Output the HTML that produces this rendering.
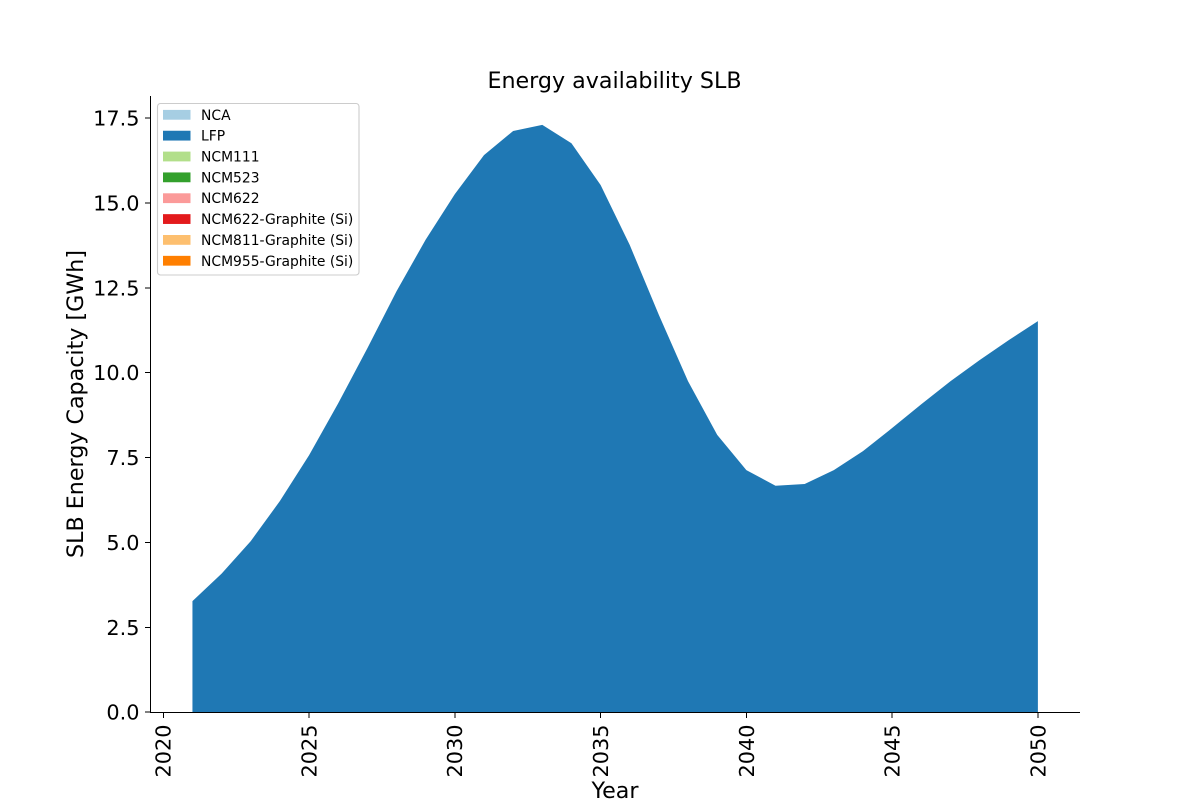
<!DOCTYPE html>
<html lang="en">
<head>
<meta charset="utf-8">
<title>Energy availability SLB</title>
<style>
html,body{margin:0;padding:0;background:#fff;width:1200px;height:800px;overflow:hidden}
svg{display:block}
text{font-family:"DejaVu Sans",sans-serif;fill:#000}
line{shape-rendering:crispEdges}
</style>
</head>
<body>
<svg id="chart" width="1200" height="800" viewBox="0 0 1200 800" xmlns="http://www.w3.org/2000/svg">
  <g id="areas"></g>
  <g id="x-ticks"></g>
  <g id="y-ticks"></g>
  <line x1="150.5" y1="96" x2="150.5" y2="713" stroke="#000" stroke-width="1"/>
  <line x1="150" y1="712.5" x2="1080" y2="712.5" stroke="#000" stroke-width="1"/>
  <text x="614.5" y="88" text-anchor="middle" font-size="22.2">Energy availability SLB</text>
  <text x="615" y="798" text-anchor="middle" font-size="22.2">Year</text>
  <text transform="translate(83 404) rotate(-90)" text-anchor="middle" font-size="22.2">SLB Energy Capacity [GWh]</text>
  <g id="legend">
    <rect x="157.5" y="103.5" width="201.5" height="171.5" rx="3" ry="3" fill="#fff" fill-opacity="0.8" stroke="#ccc" stroke-width="1.1"/>
  </g>
</svg>
<script>
const years = [2021,2022,2023,2024,2025,2026,2027,2028,2029,2030,2031,2032,2033,2034,2035,2036,2037,2038,2039,2040,2041,2042,2043,2044,2045,2046,2047,2048,2049,2050];
const lfpValues = [3.27,4.08,5.04,6.22,7.57,9.1,10.72,12.4,13.92,15.26,16.41,17.12,17.3,16.76,15.53,13.76,11.7,9.75,8.17,7.13,6.67,6.72,7.13,7.69,8.37,9.07,9.75,10.37,10.96,11.52];
const seriesNames = ["NCA","LFP","NCM111","NCM523","NCM622","NCM622-Graphite (Si)","NCM811-Graphite (Si)","NCM955-Graphite (Si)"];
const seriesColors = ["#a6cee3","#1f78b4","#b2df8a","#33a02c","#fb9a99","#e31a1c","#fdbf6f","#ff7f00"];
const xTickValues = [2020,2025,2030,2035,2040,2045,2050];
const yTickValues = [0,2.5,5,7.5,10,12.5,15,17.5];
const yTickLabels = ["0.0","2.5","5.0","7.5","10.0","12.5","15.0","17.5"];

const NS = "http://www.w3.org/2000/svg";
function xScale(v){ return 163.3 + (v - 2020) * 29.153; }
function yScale(v){ return 712.2 - v * 33.95; }
function make(tag, attrs, parent){
  const el = document.createElementNS(NS, tag);
  for (const k in attrs) el.setAttribute(k, attrs[k]);
  parent.appendChild(el);
  return el;
}

const areaGroup = document.getElementById('areas');
const upperEdge = years.map((y, i) => xScale(y).toFixed(2) + ',' + yScale(lfpValues[i]).toFixed(2));
const lowerEdge = [xScale(years[years.length - 1]).toFixed(2) + ',' + yScale(0).toFixed(2), xScale(years[0]).toFixed(2) + ',' + yScale(0).toFixed(2)];
const lfpArea = make('polygon', {points: upperEdge.concat(lowerEdge).join(' '), fill: seriesColors[1]}, areaGroup);



const xTickGroup = document.getElementById('x-ticks');
xTickValues.forEach(v => {
  const x = xScale(v);
  const t = make('line', {x1: x, x2: x, y1: 712.5, y2: 718, stroke: '#000', 'stroke-width': 1}, xTickGroup);
  
  
  const l = make('text', {transform: 'translate(' + (x + 7.4) + ' 724.5) rotate(-90)', 'text-anchor': 'end', 'font-size': 20.83}, xTickGroup);
  
  
  l.textContent = String(v);
});

const yTickGroup = document.getElementById('y-ticks');
yTickValues.forEach((v, i) => {
  const y = yScale(v);
  const t = make('line', {x1: 145, x2: 150.5, y1: y, y2: y, stroke: '#000', 'stroke-width': 1}, yTickGroup);
  
  
  const l = make('text', {x: 139.5, y: y + 7.5, 'text-anchor': 'end', 'font-size': 20.83}, yTickGroup);
  
  
  l.textContent = yTickLabels[i];
});

const legendGroup = document.getElementById('legend');
seriesNames.forEach((name, i) => {
  const cy = 114.8 + i * 20.85;
  const s = make('rect', {x: 163, y: cy - 4.9, width: 27.5, height: 9.8, fill: seriesColors[i]}, legendGroup);
  
  
  const l = make('text', {x: 201, y: cy + 5, 'font-size': 13.89}, legendGroup);
  
  
  l.textContent = name;
});
</script>
</body>
</html>
